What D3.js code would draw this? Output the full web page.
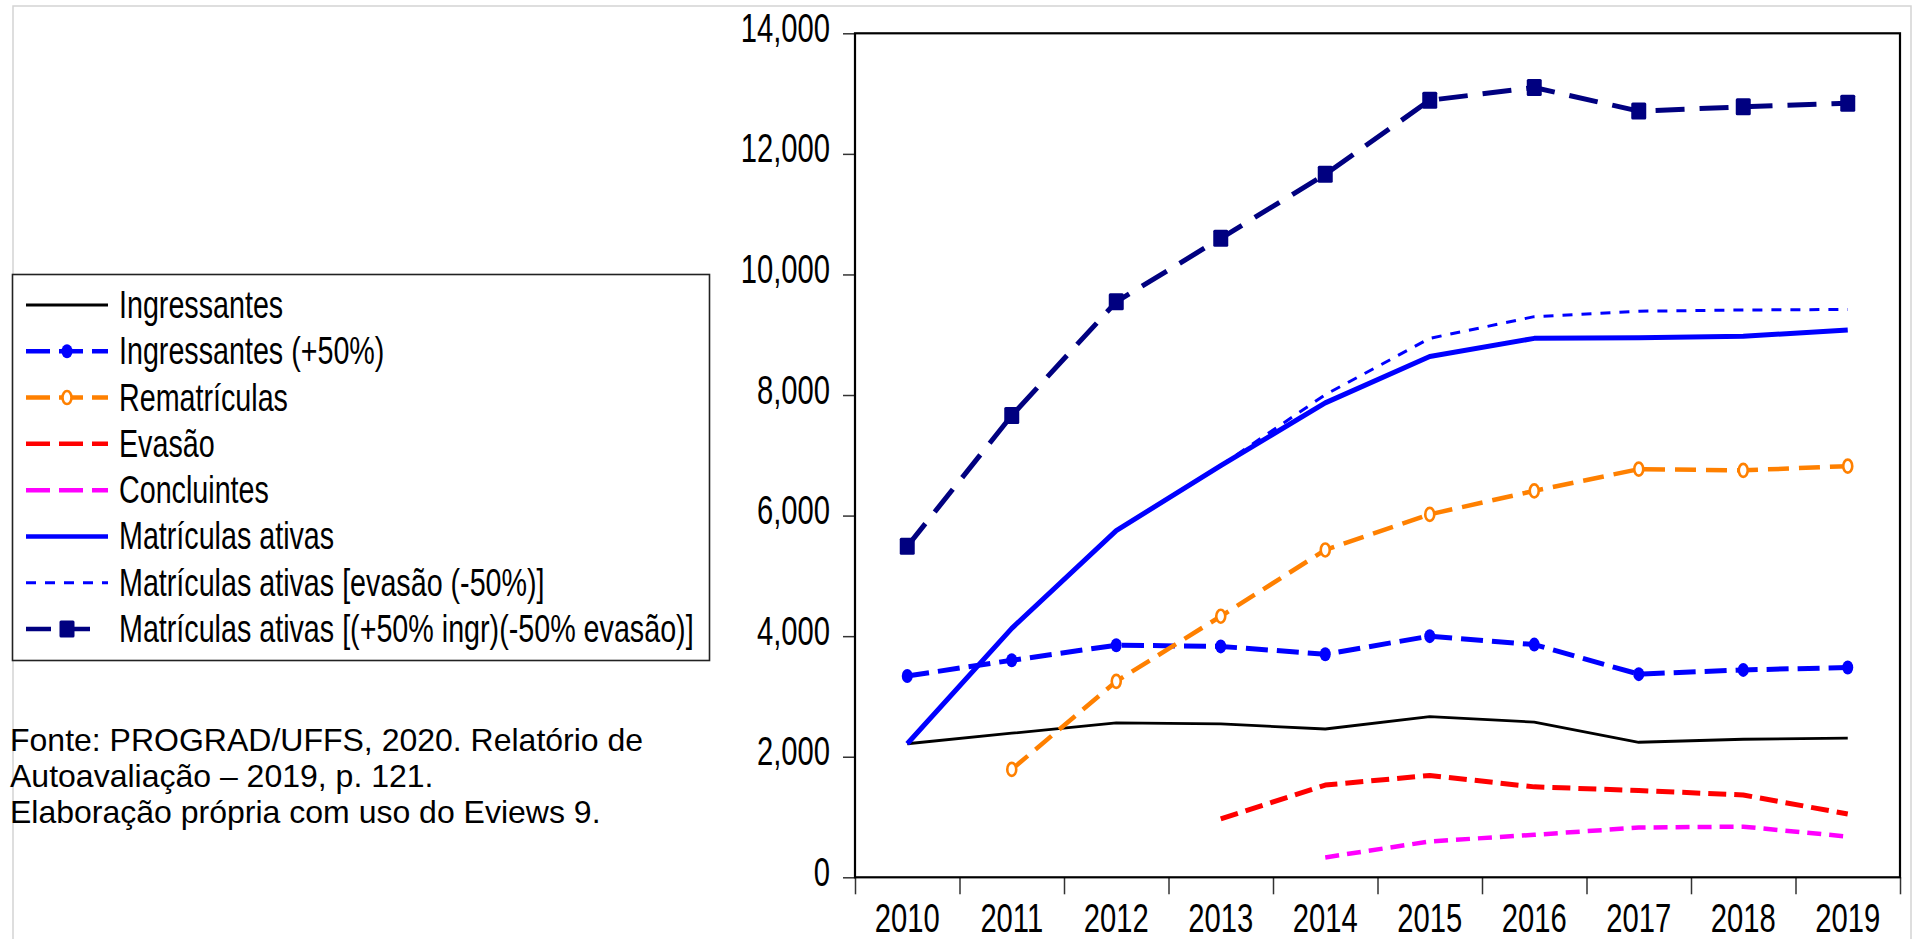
<!DOCTYPE html>
<html>
<head>
<meta charset="utf-8">
<script src="https://cdn.jsdelivr.net/npm/d3@7"></script>
<style>
  html, body { margin: 0; padding: 0; background: #fff; }
  svg { display: block; }
</style>
</head>
<body>
<svg id="chart" width="1917" height="939"></svg>
<script>
// ---------- data ----------
const years = ["2010","2011","2012","2013","2014","2015","2016","2017","2018","2019"];
const yTicks = [0, 2000, 4000, 6000, 8000, 10000, 12000, 14000];

const ingressantes       = [2215, 2390, 2560, 2545, 2460, 2665, 2575, 2240, 2290, 2310];
const ingressantes50     = [3340, 3600, 3850, 3830, 3700, 4000, 3860, 3370, 3440, 3480];
const rematriculas       = [null, 1790, 3250, 4330, 5430, 6020, 6410, 6770, 6750, 6820];
const evasao             = [null, null, null, 970, 1530, 1690, 1500, 1440, 1365, 1050];
const concluintes        = [null, null, null, null, 330, 595, 705, 825, 840, 675];
const matriculasAtivas   = [2215, 4130, 5750, 6830, 7870, 8640, 8940, 8950, 8975, 9080];
const matriculasEvasao50 = [null, null, null, 6830, 8005, 8940, 9300, 9390, 9410, 9420];
const matriculasIngrEv   = [5490, 7660, 9545, 10600, 11660, 12890, 13100, 12710, 12780, 12840];

const seriesNames = [
  "Ingressantes",
  "Ingressantes (+50%)",
  "Rematrículas",
  "Evasão",
  "Concluintes",
  "Matrículas ativas",
  "Matrículas ativas [evasão (-50%)]",
  "Matrículas ativas [(+50% ingr)(-50% evasão)]"
];
const seriesValues = [ingressantes, ingressantes50, rematriculas, evasao, concluintes,
                      matriculasAtivas, matriculasEvasao50, matriculasIngrEv];

const sourceLines = [
  "Fonte: PROGRAD/UFFS, 2020. Relatório de",
  "Autoavaliação – 2019, p. 121.",
  "Elaboração própria com uso do Eviews 9."
];

// ---------- styles ----------
const styles = [
  {color: "#000000", width: 2.8, dash: null,    marker: null},
  {color: "#0000FF", width: 5,   dash: "22,9",  marker: "dot"},
  {color: "#FF8000", width: 4.5, dash: "21,10", marker: "open"},
  {color: "#FF0000", width: 5,   dash: "18,8",  marker: null},
  {color: "#FF00FF", width: 4.5, dash: "14,8",  marker: null},
  {color: "#0000FF", width: 5,   dash: null,    marker: null},
  {color: "#0000FF", width: 3,   dash: "10,9",  marker: null},
  {color: "#000080", width: 5,   dash: "29,15", marker: "square"}
];

const font = "'Liberation Sans', Arial, sans-serif";
const AX_FS = 40, AX_SX = 0.73;   // axis labels: size and horizontal condensation
const LG_FS = 38, LG_SX = 0.755;  // legend labels

const svg = d3.select("#chart");

// outer light frame
svg.append("path")
  .attr("d", "M13,939 L13,6 L1911,6 L1911,939")
  .attr("fill", "none").attr("stroke", "#d4d4d4").attr("stroke-width", 1.5);

const L = 855, R = 1900, T = 33.3, B = 877.3;

const x = d3.scaleBand().domain(years).range([L, R]);
const xc = d => x(d) + x.bandwidth() / 2;
const xi = d3.scaleLinear().domain([0, years.length]).range([L, R]);
const y = d3.scaleLinear().domain([0, 14000]).range([B, T]);

// y axis
const yAxis = svg.append("g").attr("transform", `translate(${L},0)`)
  .call(d3.axisLeft(y).tickValues(yTicks).tickFormat(d3.format(",")).tickSize(12).tickPadding(13));
yAxis.select(".domain").remove();
yAxis.selectAll(".tick line").attr("stroke", "#333").attr("stroke-width", 1.5);
yAxis.selectAll(".tick text").attr("font-family", font).attr("font-size", AX_FS)
  .attr("fill", "#000").attr("dy", "0.2em")
  .attr("x", -25 / AX_SX).attr("transform", `scale(${AX_SX},1)`);

// x tick marks at band boundaries
const xTickAxis = svg.append("g").attr("transform", `translate(0,${B})`)
  .call(d3.axisBottom(xi).tickValues(d3.range(0, years.length + 1)).tickSize(17).tickFormat(""));
xTickAxis.select(".domain").remove();
xTickAxis.selectAll(".tick line").attr("stroke", "#333").attr("stroke-width", 1.5);

// x labels
const xAxis = svg.append("g").attr("transform", `translate(0,${B})`)
  .call(d3.axisBottom(x).tickSize(0).tickPadding(26));
xAxis.select(".domain").remove();
xAxis.selectAll(".tick text").attr("font-family", font).attr("font-size", AX_FS).attr("fill", "#000")
  .attr("transform", `scale(${AX_SX},1)`);

// plot frame
svg.append("rect").attr("x", L).attr("y", T).attr("width", R - L).attr("height", B - T)
  .attr("fill", "none").attr("stroke", "#000").attr("stroke-width", 2.2);

// lines
const line = d3.line()
  .defined(d => d.v != null)
  .x(d => xc(d.year))
  .y(d => y(d.v));

function drawMarker(g, type, color, cx, cy) {
  if (type === "dot") {
    g.append("ellipse").attr("cx", cx).attr("cy", cy).attr("rx", 5.5).attr("ry", 7)
      .attr("fill", color);
  } else if (type === "open") {
    g.append("ellipse").attr("cx", cx).attr("cy", cy).attr("rx", 4.5).attr("ry", 6.5)
      .attr("fill", "#fff").attr("stroke", color).attr("stroke-width", 2.6);
  } else if (type === "square") {
    g.append("rect").attr("x", cx - 7.5).attr("y", cy - 8.5).attr("width", 15).attr("height", 17)
      .attr("rx", 1.5).attr("fill", color);
  }
}

const plot = svg.append("g");
seriesValues.forEach((vals, i) => {
  const st = styles[i];
  const data = years.map((yr, j) => ({year: yr, v: vals[j]}));
  const g = plot.append("g");
  g.append("path").datum(data)
    .attr("d", line)
    .attr("fill", "none")
    .attr("stroke", st.color)
    .attr("stroke-width", st.width)
    .attr("stroke-linejoin", "round")
    .attr("stroke-dasharray", st.dash);
  if (st.marker) {
    data.filter(d => d.v != null).forEach(d => drawMarker(g, st.marker, st.color, xc(d.year), y(d.v)));
  }
});

// legend
const legX = 12.5, legY = 274.5, legW = 697, legH = 386;
const leg = svg.append("g");
leg.append("rect").attr("x", legX).attr("y", legY).attr("width", legW).attr("height", legH)
  .attr("fill", "#fff").attr("stroke", "#222").attr("stroke-width", 1.6);
const rowY = d3.scaleLinear().domain([0, 7]).range([305, 629]);
seriesNames.forEach((name, i) => {
  const st = styles[i];
  const cy = rowY(i);
  const x2 = i === 7 ? 96 : 108;
  leg.append("line").attr("x1", 26).attr("x2", x2).attr("y1", cy).attr("y2", cy)
    .attr("stroke", st.color).attr("stroke-width", Math.min(st.width, 4.5))
    .attr("stroke-dasharray", st.dash ? (i === 7 ? "25,14" : (i === 6 ? "10,9" : "24,9")) : null);
  if (st.marker) drawMarker(leg, st.marker, st.color, 67, cy);
  leg.append("text").attr("x", 119 / LG_SX).attr("y", cy + 13)
    .attr("transform", `scale(${LG_SX},1)`)
    .attr("font-family", font).attr("font-size", LG_FS).attr("fill", "#000")
    .text(name);
});

// source note
svg.append("g").selectAll("text").data(sourceLines).join("text")
  .attr("x", 10).attr("y", (d, i) => 751 + i * 36)
  .attr("font-family", font).attr("font-size", 32).attr("fill", "#000")
  .text(d => d);
</script>
</body>
</html>
